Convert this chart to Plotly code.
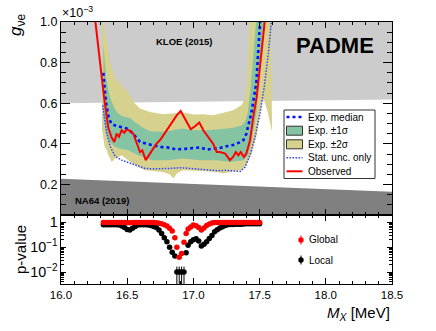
import plotly.graph_objs as go
from plotly.subplots import make_subplots

# ---- exclusion regions (g_ve in units of 1e-3) ----
KLOE_MASS = [16.0, 18.5]
KLOE_LIMIT = [0.600, 0.618]
NA64_MASS = [16.0, 18.5]
NA64_LIMIT = [0.229, 0.164]

# ---- observed limit ----
OBS_MASS = [16.26, 16.28, 16.305, 16.325, 16.34, 16.357, 16.383, 16.403, 16.42, 16.438,
            16.458, 16.478, 16.496, 16.52, 16.546, 16.572, 16.597, 16.614, 16.64, 16.672,
            16.72, 16.75, 16.785, 16.81, 16.836, 16.874, 16.904, 16.937, 16.98, 17.012,
            17.045, 17.075, 17.113, 17.15, 17.176, 17.2, 17.24, 17.276, 17.30, 17.32,
            17.34, 17.357, 17.382, 17.40, 17.428, 17.452, 17.478, 17.503, 17.54]
OBS_LIMIT = [1.00, 0.88, 0.73, 0.63, 0.56, 0.48, 0.43, 0.41, 0.45, 0.435,
             0.467, 0.455, 0.47, 0.465, 0.45, 0.40, 0.36, 0.368, 0.32, 0.352,
             0.40, 0.42, 0.455, 0.475, 0.50, 0.54, 0.562, 0.525, 0.472, 0.487,
             0.505, 0.467, 0.434, 0.40, 0.36, 0.36, 0.352, 0.32, 0.336, 0.36,
             0.344, 0.36, 0.336, 0.352, 0.418, 0.533, 0.63, 0.795, 1.01]

# ---- expected median ----
MED_MASS = [16.32, 16.33, 16.34, 16.36, 16.38, 16.41, 16.45, 16.50, 16.546, 16.597,
            16.65, 16.70, 16.75, 16.80, 16.87, 16.93, 16.98, 17.05, 17.10, 17.15,
            17.20, 17.25, 17.30, 17.34, 17.377, 17.40, 17.42, 17.44, 17.46, 17.475,
            17.49, 17.505]
MED_LIMIT = [0.75, 0.66, 0.60, 0.53, 0.50, 0.49, 0.485, 0.475, 0.45, 0.41,
             0.40, 0.393, 0.385, 0.383, 0.373, 0.375, 0.378, 0.383, 0.372, 0.376,
             0.38, 0.388, 0.395, 0.405, 0.418, 0.45, 0.50, 0.56, 0.64, 0.70,
             0.86, 1.01]

# ---- stat. uncertainty only ----
STAT_MASS = [16.315, 16.33, 16.345, 16.37, 16.408, 16.458, 16.534, 16.584, 16.634, 16.70,
             16.785, 16.85, 16.90, 16.95, 17.00, 17.05, 17.10, 17.176, 17.24, 17.30,
             17.352, 17.39, 17.43, 17.465, 17.503, 17.535, 17.566, 17.59]
STAT_LIMIT = [0.59, 0.52, 0.455, 0.39, 0.34, 0.32, 0.303, 0.288, 0.279, 0.277,
              0.277, 0.28, 0.283, 0.28, 0.277, 0.275, 0.272, 0.268, 0.27, 0.268,
              0.264, 0.285, 0.35, 0.434, 0.549, 0.68, 0.844, 1.01]

# ---- +-1 sigma band ----
UP1_MASS = [16.32, 16.342, 16.37, 16.40, 16.43, 16.47, 16.52, 16.572, 16.62, 16.672,
            16.75, 16.80, 16.86, 16.92, 16.975, 17.05, 17.12, 17.176, 17.24, 17.30,
            17.365, 17.39, 17.41, 17.43, 17.45, 17.47, 17.48]
UP1_LIMIT = [0.89, 0.72, 0.63, 0.58, 0.55, 0.535, 0.528, 0.50, 0.48, 0.462,
             0.46, 0.462, 0.47, 0.476, 0.47, 0.467, 0.468, 0.47, 0.475, 0.48,
             0.49, 0.51, 0.55, 0.66, 0.80, 0.95, 1.05]
LO1_MASS = [16.32, 16.342, 16.36, 16.40, 16.433, 16.508, 16.584, 16.685, 16.80, 16.92,
            17.05, 17.176, 17.276, 17.377, 17.415, 17.44, 17.475, 17.503, 17.528, 17.545]
LO1_LIMIT = [0.53, 0.45, 0.418, 0.39, 0.378, 0.369, 0.344, 0.32, 0.32, 0.328,
             0.32, 0.32, 0.311, 0.32, 0.344, 0.42, 0.55, 0.76, 0.93, 1.05]

# ---- +-2 sigma band ----
UP2_MASS = [16.31, 16.33, 16.345, 16.368, 16.406, 16.455, 16.50, 16.546, 16.597, 16.672,
            16.77, 16.85, 16.92, 17.0, 17.075, 17.15, 17.226, 17.30, 17.365, 17.39,
            17.405, 17.415, 17.428, 17.585]
UP2_LIMIT = [1.05, 0.96, 0.89, 0.81, 0.729, 0.688, 0.66, 0.606, 0.574, 0.557,
             0.546, 0.552, 0.555, 0.545, 0.546, 0.541, 0.552, 0.565, 0.592, 0.63,
             0.70, 0.84, 1.05, 1.05]
LO2_MASS = [16.31, 16.33, 16.345, 16.355, 16.383, 16.408, 16.458, 16.508, 16.559, 16.634,
            16.71, 16.77, 16.82, 16.85, 16.874, 16.92, 16.975, 17.05, 17.10, 17.176,
            17.226, 17.30, 17.365, 17.40, 17.44, 17.478, 17.503, 17.528, 17.56, 17.594]
LO2_LIMIT = [0.47, 0.385, 0.369, 0.35, 0.311, 0.328, 0.344, 0.32, 0.295, 0.27,
             0.265, 0.262, 0.25, 0.23, 0.254, 0.27, 0.267, 0.267, 0.265, 0.262,
             0.254, 0.265, 0.27, 0.295, 0.35, 0.44, 0.55, 0.63, 0.56, 0.46]

# ---- p-values ----
P_MASS = [16.32, 16.34, 16.36, 16.38, 16.40, 16.42, 16.44, 16.46, 16.48, 16.50,
          16.52, 16.54, 16.56, 16.58, 16.60, 16.62, 16.64, 16.66, 16.68, 16.70,
          16.72, 16.74, 16.76, 16.78, 16.80, 16.82, 16.84, 16.86, 16.875, 16.893,
          16.911, 16.929, 16.945, 16.96, 16.98, 17.00, 17.02, 17.04, 17.06, 17.08,
          17.10, 17.12, 17.14, 17.16, 17.18, 17.20, 17.22, 17.24, 17.26, 17.28,
          17.30, 17.32, 17.34, 17.36, 17.38, 17.40, 17.42, 17.44, 17.46, 17.48, 17.50]
P_LOCAL = [0.81, 0.81, 0.81, 0.81, 0.81, 0.81, 0.79, 0.72, 0.63, 0.52,
           0.50, 0.58, 0.69, 0.78, 0.81, 0.81, 0.81, 0.79, 0.76, 0.69,
           0.62, 0.50, 0.355, 0.24, 0.166, 0.10, 0.063, 0.044, 0.01, 0.01,
           0.01, 0.01, 0.060, 0.12, 0.166, 0.20, 0.22, 0.178, 0.112, 0.132,
           0.166, 0.224, 0.30, 0.417, 0.51, 0.60, 0.676, 0.76, 0.81, 0.83,
           0.83, 0.85, 0.85, 0.85, 0.87, 0.89, 0.89, 0.89, 0.89, 0.89, 0.89]
P_GLOBAL = [1.0, 1.0, 1.0, 1.0, 1.0, 1.0, 1.0, 1.0, 1.0, 0.98,
            0.98, 1.0, 1.0, 1.0, 1.0, 1.0, 1.0, 1.0, 1.0, 1.0,
            0.98, 0.93, 0.89, 0.81, 0.72, 0.59, 0.45, 0.24, 0.10, 0.04,
            0.056, 0.16, 0.355, 0.55, 0.66, 0.79, 0.74, 0.63, 0.50, 0.60,
            0.76, 0.87, 0.95, 1.0, 1.0, 1.0, 1.0, 1.0, 1.0, 1.0,
            1.0, 1.0, 1.0, 1.0, 1.0, 1.0, 1.0, 1.0, 1.0, 1.0, 1.0]
P_FLOOR = 0.01          # toys with no excess are shown at 0.01
FLOOR_ERR_UP = 0.0067

Y_LO, Y_HI = 0.05, 1.0

C_KLOE = '#cccccc'
C_NA64 = '#808080'
C_GREEN = '#84c4a2'
C_YELLOW = '#d7d18e'
FONT = 'Liberation Sans, Arial, sans-serif'

fig = make_subplots(rows=2, cols=1, shared_xaxes=True, vertical_spacing=0,
                    row_heights=[0.7366, 0.2634])

# exclusion regions
fig.add_trace(go.Scatter(x=KLOE_MASS + KLOE_MASS[::-1], y=KLOE_LIMIT + [Y_HI + 0.05] * 2,
                         fill='toself', fillcolor=C_KLOE, line=dict(width=0),
                         mode='lines', hoverinfo='skip'), row=1, col=1)
fig.add_trace(go.Scatter(x=NA64_MASS + NA64_MASS[::-1], y=NA64_LIMIT + [Y_LO - 0.05] * 2,
                         fill='toself', fillcolor=C_NA64, line=dict(width=0),
                         mode='lines', hoverinfo='skip'), row=1, col=1)

# bands
fig.add_trace(go.Scatter(x=UP2_MASS + LO2_MASS[::-1], y=UP2_LIMIT + LO2_LIMIT[::-1],
                         fill='toself', fillcolor=C_YELLOW, line=dict(width=0),
                         mode='lines'), row=1, col=1)
fig.add_trace(go.Scatter(x=UP1_MASS + LO1_MASS[::-1], y=UP1_LIMIT + LO1_LIMIT[::-1],
                         fill='toself', fillcolor=C_GREEN, line=dict(width=0),
                         mode='lines'), row=1, col=1)

# lines
fig.add_trace(go.Scatter(x=STAT_MASS, y=STAT_LIMIT, mode='lines',
                         line=dict(color='#3344ff', width=1.5, dash='1.5px,1.5px')), row=1, col=1)
fig.add_trace(go.Scatter(x=MED_MASS, y=MED_LIMIT, mode='lines',
                         line=dict(color='#0010ff', width=2.6, dash='dot')), row=1, col=1)
fig.add_trace(go.Scatter(x=OBS_MASS, y=OBS_LIMIT, mode='lines',
                         line=dict(color='#ff0000', width=2)), row=1, col=1)

# p-values
err_up = [FLOOR_ERR_UP if p == P_FLOOR else 0 for p in P_LOCAL]
err_dn = [P_FLOOR * 0.999 if p == P_FLOOR else 0 for p in P_LOCAL]
fig.add_trace(go.Scatter(x=P_MASS, y=P_LOCAL, mode='markers',
                         marker=dict(color='black', size=5.5),
                         error_y=dict(type='data', array=err_up, arrayminus=err_dn,
                                      color='black', thickness=1, width=0)), row=2, col=1)
fig.add_trace(go.Scatter(x=P_MASS, y=P_GLOBAL, mode='markers',
                         marker=dict(color='#ff0000', size=5.5)), row=2, col=1)

W, H = 436, 331
L, R, T, B = 61, 44, 22, 47


def fx(px):
    return (px - L) / (W - L - R)


def fy(py):
    return (H - B - py) / (H - T - B)


axis = dict(showline=True, linecolor='black', linewidth=1, mirror='allticks',
            ticks='inside', tickcolor='black', showgrid=False, zeroline=False,
            tickfont=dict(size=11.5, color='black', family=FONT))

fig.update_xaxes(axis, range=[16.0, 18.5], tick0=16, dtick=0.5, ticklen=6,
                 tickformat='.1f',
                 minor=dict(dtick=0.1, ticks='inside', ticklen=3, tickcolor='black'))
fig.update_xaxes(showticklabels=False, row=1, col=1)
fig.update_yaxes(axis, range=[Y_LO, Y_HI], tick0=0, dtick=0.2, ticklen=9,
                 tickformat='.1f', tickfont=dict(size=12.5),
                 minor=dict(dtick=0.05, ticks='inside', ticklen=5, tickcolor='black'),
                 row=1, col=1)
fig.update_yaxes(axis, type='log', range=[-2.48, 0.30], tick0=0, dtick=1, ticklen=5,
                 exponentformat='power',
                 minor=dict(ticks='inside', ticklen=3, tickcolor='black'),
                 row=2, col=1)

ann = []


def label(text, x, y, xref='paper', yref='paper', xanchor='center', yanchor='middle',
          size=10, angle=0):
    ann.append(dict(text=text, x=x, y=y, xref=xref, yref=yref, xanchor=xanchor,
                    yanchor=yanchor, textangle=angle, showarrow=False,
                    font=dict(size=size)))


label('<b>KLOE (2015)</b>', 16.93, 0.905, 'x', 'y', size=9.5)
label('<b>NA64 (2019)</b>', 16.09, 0.12, 'x', 'y', xanchor='left', size=9.5)
label('<b>PADME</b>', 18.066, 0.885, 'x', 'y', size=22)
label('×10<sup>−3</sup>', fx(60), fy(22), xanchor='left', yanchor='bottom', size=12.5)
label('<i>g</i><sub>νe</sub>', fx(17), fy(12), yanchor='top', size=17, angle=-90)
label('p-value', fx(20), fy(250), size=15, angle=-90)
label('<i>M</i><sub><i>X</i></sub> [MeV]', fx(392), fy(313), xanchor='right', size=15)

# legend of the limit panel, drawn by hand
shapes = []
shapes.append(dict(type='rect', xref='paper', yref='paper', x0=fx(284), x1=fx(375),
                   y0=fy(178.5), y1=fy(110), fillcolor='white',
                   line=dict(color='#333333', width=1)))
rows = [117, 130.7, 144.3, 157.7, 171.3]
labels = ['Exp. median', 'Exp. ±1σ', 'Exp. ±2σ', 'Stat. unc. only', 'Observed']
shapes.append(dict(type='line', xref='paper', yref='paper', x0=fx(286.5), x1=fx(302.5),
                   y0=fy(rows[0]), y1=fy(rows[0]),
                   line=dict(color='#0010ff', width=2.6, dash='dot')))
for r, c in [(rows[1], C_GREEN), (rows[2], C_YELLOW)]:
    shapes.append(dict(type='rect', xref='paper', yref='paper', x0=fx(286.5), x1=fx(302.5),
                       y0=fy(r + 4.5), y1=fy(r - 4.5), fillcolor=c,
                       line=dict(color='#333333', width=1)))
shapes.append(dict(type='line', xref='paper', yref='paper', x0=fx(286.5), x1=fx(302.5),
                   y0=fy(rows[3]), y1=fy(rows[3]),
                   line=dict(color='#3344ff', width=1.5, dash='1.5px,1.5px')))
shapes.append(dict(type='line', xref='paper', yref='paper', x0=fx(286.5), x1=fx(302.5),
                   y0=fy(rows[4]), y1=fy(rows[4]), line=dict(color='#ff0000', width=2)))
for r, t in zip(rows, labels):
    label(t, fx(306), fy(r), xanchor='left', size=10)

# legend of the p-value panel
for r, c, t in [(240, '#ff0000', 'Global'), (260, 'black', 'Local')]:
    shapes.append(dict(type='line', xref='paper', yref='paper', x0=fx(301), x1=fx(301),
                       y0=fy(r + 4.5), y1=fy(r - 4.5), line=dict(color=c, width=1)))
    shapes.append(dict(type='circle', xref='paper', yref='paper', x0=fx(298.3), x1=fx(303.7),
                       y0=fy(r + 2.7), y1=fy(r - 2.7), fillcolor=c, line=dict(color=c, width=0)))
    label(t, fx(307), fy(r), xanchor='left', size=10)

fig.update_layout(width=W, height=H, margin=dict(l=L, r=R, t=T, b=B),
                  paper_bgcolor='white', plot_bgcolor='white', showlegend=False,
                  font=dict(family=FONT, color='black'),
                  annotations=ann, shapes=shapes)

fig.write_html("out.html", config={'displayModeBar': False},
               post_script="document.body.style.margin='0px';")
